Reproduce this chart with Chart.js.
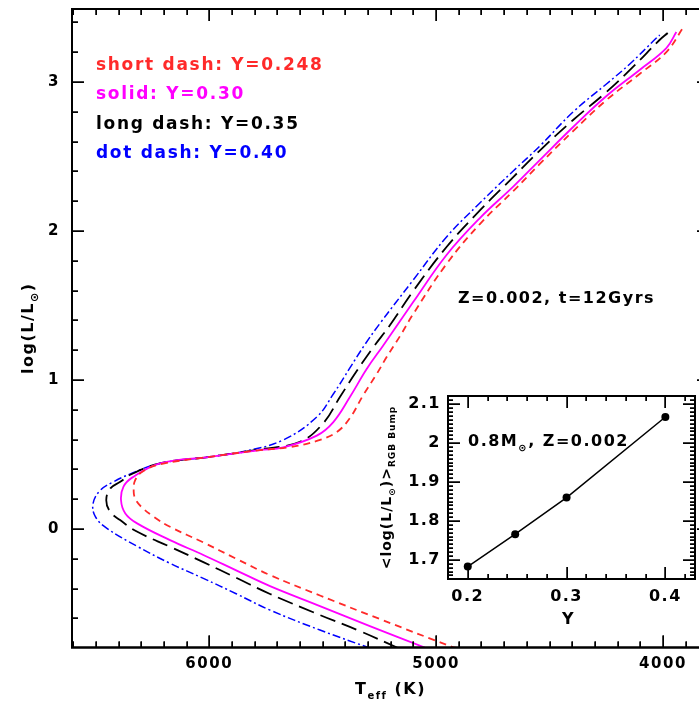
<!DOCTYPE html>
<html>
<head>
<meta charset="utf-8">
<script src="https://cdn.jsdelivr.net/npm/chart.js@4.4.0/dist/chart.umd.min.js"></script>
<style>
html, body { margin: 0; padding: 0; background: #fff; }
#wrap { position: relative; width: 699px; height: 702px; overflow: hidden; }
#main, #mainTicks { position: absolute; left: 0; top: 0; }
#inset, #insetTicks { position: absolute; left: 370px; top: 380px; }
</style>
</head>
<body>
<div id="wrap">
  <canvas id="main" width="712" height="702"></canvas>
  <canvas id="inset" width="329" height="250"></canvas>
  <canvas id="mainTicks" width="712" height="702"></canvas>
  <canvas id="insetTicks" width="329" height="250"></canvas>
</div>
<script>
// Isochrones, Z=0.002, t=12 Gyr: Teff (K) and log(L/Lsun), from the main sequence up the RGB
const teff248 = [4905, 4930, 5248, 5512, 5732, 5879, 6026, 6173, 6245, 6300, 6325, 6333, 6326, 6290, 6216, 5996, 5776, 5644, 5526, 5438, 5380, 5321, 5262, 5218, 5159, 5101, 4954, 4807, 4660, 4543, 4396, 4249, 4103, 3985, 3912];
const logL248 = [-0.80, -0.79, -0.604, -0.446, -0.309, -0.201, -0.09, 0.015, 0.083, 0.15, 0.20, 0.25, 0.33, 0.39, 0.435, 0.485, 0.53, 0.550, 0.591, 0.651, 0.745, 0.899, 1.040, 1.154, 1.295, 1.443, 1.779, 2.047, 2.268, 2.450, 2.671, 2.879, 3.054, 3.201, 3.362];

const teff30 = [5050, 5292, 5512, 5732, 5879, 6026, 6173, 6318, 6370, 6389, 6378, 6340, 6217, 5996, 5776, 5674, 5526, 5453, 5380, 5306, 5233, 5101, 4954, 4807, 4660, 4543, 4396, 4249, 4103, 3985, 3941];
const logL30 = [-0.795, -0.651, -0.517, -0.383, -0.279, -0.174, -0.074, 0.038, 0.105, 0.195, 0.284, 0.345, 0.441, 0.485, 0.53, 0.548, 0.627, 0.718, 0.886, 1.074, 1.232, 1.523, 1.839, 2.087, 2.298, 2.476, 2.698, 2.906, 3.081, 3.228, 3.336];

const teff35 = [5165, 5336, 5512, 5732, 5879, 6026, 6173, 6319, 6393, 6437, 6454, 6436, 6392, 6348, 6217, 5996, 5776, 5600, 5497, 5424, 5350, 5278, 5203, 5101, 4954, 4807, 4660, 4543, 4396, 4249, 4132, 4015, 3979];
const logL35 = [-0.80, -0.685, -0.577, -0.436, -0.329, -0.222, -0.119, -0.017, 0.060, 0.116, 0.195, 0.273, 0.317, 0.364, 0.441, 0.485, 0.535, 0.586, 0.711, 0.886, 1.060, 1.218, 1.369, 1.597, 1.893, 2.138, 2.362, 2.540, 2.745, 2.933, 3.101, 3.282, 3.329];

const teff40 = [5290, 5512, 5732, 5879, 6026, 6173, 6319, 6451, 6502, 6512, 6480, 6422, 6348, 6217, 5996, 5850, 5675, 5526, 5453, 5380, 5314, 5248, 5101, 4954, 4807, 4660, 4543, 4396, 4249, 4146, 4029, 4014];
const logL40 = [-0.80, -0.678, -0.544, -0.436, -0.331, -0.23, -0.115, 0.005, 0.083, 0.172, 0.26, 0.317, 0.370, 0.441, 0.485, 0.52, 0.597, 0.752, 0.906, 1.081, 1.238, 1.379, 1.671, 1.960, 2.188, 2.403, 2.570, 2.799, 2.987, 3.121, 3.295, 3.315];

const seriesLabels = ['short dash: Y=0.248', 'solid: Y=0.30', 'long dash: Y=0.35', 'dot dash: Y=0.40'];
const seriesColors = ['#ff2a2a', '#ff00ff', '#000000', '#0000ff'];

// inset: mean RGB bump luminosity vs helium abundance
const insetHelium = [0.2, 0.248, 0.3, 0.4];
const insetBump = [1.683, 1.766, 1.86, 2.067];

const xTickValues = [4000, 5000, 6000];
const yTickValues = [0, 1, 2, 3];
const insetXTicks = [0.2, 0.3, 0.4];
const insetYTicks = [1.7, 1.8, 1.9, 2.0, 2.1];

// axis limits
const teffRange = [3797, 6605];
const logLRange = [-0.795, 3.49];
const heliumRange = [0.18, 0.43];
const bumpRange = [1.651, 2.121];

const SANS = 'DejaVu Sans';
const mainTickSpec = { xr: teffRange, yr: logLRange, xRev: true, xMinor: 100, xMajor: 1000, yMinor: 0.2, yMajor: 1, major: 12, minor: 6 };
const insetTickSpec = { xr: heliumRange, yr: bumpRange, xRev: false, xMinor: 0.02, xMajor: 0.1, yMinor: 0.01, yMajor: 0.1, major: 12, minor: 5 };

function toPoints(xs, ys) {
    return xs.map((x, i) => ({ x: x, y: ys[i] }));
}

// text with subscripts: parts = [[text, isSub], ...]
function drawRich(ctx, parts, x, y, size, subSize, align) {
    const widths = parts.map(p => {
        ctx.font = 'bold ' + (p[1] ? subSize : size) + 'px ' + SANS;
        return ctx.measureText(p[0]).width;
    });
    const total = widths.reduce((a, b) => a + b, 0);
    let cx = align === 'center' ? x - total / 2 : x;
    ctx.textAlign = 'left';
    ctx.textBaseline = 'alphabetic';
    parts.forEach((p, i) => {
        ctx.font = 'bold ' + (p[1] ? subSize : size) + 'px ' + SANS;
        ctx.fillText(p[0], cx, y + (p[1] ? size * 0.3 : 0));
        cx += widths[i];
    });
}

function stepValues(range, step) {
    const out = [];
    const n0 = Math.ceil(range[0] / step - 1e-9), n1 = Math.floor(range[1] / step + 1e-9);
    for (let i = n0; i <= n1; i++) out.push(i * step);
    return out;
}

function isMajor(v, major) {
    return Math.abs(v / major - Math.round(v / major)) < 1e-6;
}

// pixel from the chart scale, falling back to the chart area if the scale gives nothing usable
function xPix(chart, t, v) {
    const p = chart.scales.x ? chart.scales.x.getPixelForValue(v) : NaN;
    if (isFinite(p)) return p;
    const a = chart.chartArea, f = (v - t.xr[0]) / (t.xr[1] - t.xr[0]);
    return t.xRev ? a.right - f * (a.right - a.left) : a.left + f * (a.right - a.left);
}
function yPix(chart, t, v) {
    const p = chart.scales.y ? chart.scales.y.getPixelForValue(v) : NaN;
    if (isFinite(p)) return p;
    const a = chart.chartArea, f = (v - t.yr[0]) / (t.yr[1] - t.yr[0]);
    return a.bottom - f * (a.bottom - a.top);
}

// inward ticks on all four sides plus the frame
function drawFrame(chart, ctx, t) {
    const a = chart.chartArea;
    ctx.save();
    ctx.setLineDash([]);
    ctx.globalAlpha = 1;
    ctx.globalCompositeOperation = 'source-over';
    ctx.strokeStyle = '#000';
    ctx.lineWidth = 1.5;
    ctx.beginPath();
    stepValues(t.xr, t.xMinor).forEach(v => {
        const len = isMajor(v, t.xMajor) ? t.major : t.minor;
        const px = Math.round(xPix(chart, t, v)) + 0.25;
        ctx.moveTo(px, a.bottom); ctx.lineTo(px, a.bottom - len);
        ctx.moveTo(px, a.top); ctx.lineTo(px, a.top + len);
    });
    stepValues(t.yr, t.yMinor).forEach(v => {
        const len = isMajor(v, t.yMajor) ? t.major : t.minor;
        const py = Math.round(yPix(chart, t, v)) + 0.25;
        ctx.moveTo(a.left, py); ctx.lineTo(a.left + len, py);
        ctx.moveTo(a.right, py); ctx.lineTo(a.right - len, py);
    });
    ctx.stroke();
    ctx.lineWidth = 2;
    ctx.strokeRect(a.left, a.top, a.right - a.left, a.bottom - a.top);
    ctx.restore();
}

const spacingPlugin = {
    id: 'spacing',
    beforeDraw(chart) { chart.ctx.letterSpacing = '1.5px'; }
};

const mainText = {
    id: 'mainText',
    afterDraw(chart) {
        drawFrame(chart, chart.ctx, mainTickSpec);
        const ctx = chart.ctx, a = chart.chartArea;
        ctx.save();
        // legend text
        ctx.letterSpacing = '1.7px';
        const rows = [70, 99, 129, 158];
        seriesLabels.forEach((s, i) => {
            ctx.fillStyle = seriesColors[i];
            drawRich(ctx, [[s, false]], 96, rows[i], 17, 11, 'left');
        });
        ctx.fillStyle = '#000';
        ctx.letterSpacing = '1.5px';
        drawRich(ctx, [['Z=0.002, t=12Gyrs', false]], 458, 303, 16, 10, 'left');
        // axis titles
        drawRich(ctx, [['T', false], ['eff', true], [' (K)', false]], (a.left + a.right) / 2, 694, 16, 10, 'center');
        ctx.translate(33, (a.top + a.bottom) / 2);
        ctx.rotate(-Math.PI / 2);
        drawRich(ctx, [['log(L/L', false], ['\u2299', true], [')', false]], 0, 0, 16, 11, 'center');
        ctx.restore();
    }
};

const insetText = {
    id: 'insetText',
    afterDraw(chart) {
        drawFrame(chart, chart.ctx, insetTickSpec);
        const ctx = chart.ctx, a = chart.chartArea;
        ctx.save();
        ctx.fillStyle = '#000';
        ctx.letterSpacing = '1.5px';
        drawRich(ctx, [['0.8M', false], ['\u2299', true], [', Z=0.002', false]], a.left + 20, 66, 16, 10, 'left');
        drawRich(ctx, [['Y', false]], (a.left + a.right) / 2 - 3, 244, 16, 10, 'center');
        ctx.letterSpacing = '1px';
        ctx.translate(21, (a.top + a.bottom) / 2);
        ctx.rotate(-Math.PI / 2);
        drawRich(ctx, [['<log(L/L', false], ['\u2299', true], [')>', false], ['RGB Bump', true]], 0, 0, 14, 9, 'center');
        ctx.restore();
    }
};

const tickFont = { family: SANS, size: 15, weight: 'bold' };

const datasets = [
    { data: toPoints(teff248, logL248), borderColor: seriesColors[0], borderWidth: 1.8, borderDash: [7, 5] },
    { data: toPoints(teff30, logL30), borderColor: seriesColors[1], borderWidth: 1.8, borderDash: [] },
    { data: toPoints(teff35, logL35), borderColor: seriesColors[2], borderWidth: 1.8, borderDash: [16, 7] },
    { data: toPoints(teff40, logL40), borderColor: seriesColors[3], borderWidth: 1.5, borderDash: [8, 3, 2, 3] }
].map(d => Object.assign(d, { showLine: true, pointRadius: 0, fill: false, tension: 0.4 }));

const mainChart = new Chart(document.getElementById('main'), {
    type: 'scatter',
    data: { datasets: datasets },
    options: {
        responsive: false,
        animation: false,
        layout: { padding: { top: 9, right: 3, left: 0, bottom: 0 } },
        plugins: { legend: { display: false }, tooltip: { enabled: false } },
        scales: {
            x: {
                type: 'linear', reverse: true, min: teffRange[0], max: teffRange[1],
                grid: { display: false, drawTicks: false }, border: { display: false },
                afterBuildTicks: s => { s.ticks = xTickValues.map(v => ({ value: v })); },
                afterFit: s => { s.height = 54.5; s.paddingLeft = 0; s.paddingRight = 0; },
                ticks: { font: tickFont, color: '#000', padding: 7.5, maxRotation: 0, callback: v => String(v) }
            },
            y: {
                type: 'linear', min: logLRange[0], max: logLRange[1],
                grid: { display: false, drawTicks: false }, border: { display: false },
                afterBuildTicks: s => { s.ticks = yTickValues.map(v => ({ value: v })); },
                afterFit: s => { s.width = 72; s.paddingTop = 0; s.paddingBottom = 0; },
                ticks: { font: tickFont, color: '#000', padding: 12, callback: v => String(v) }
            }
        }
    },
    plugins: [spacingPlugin, mainText]
});

const insetFont = { family: SANS, size: 16, weight: 'bold' };

const insetChart = new Chart(document.getElementById('inset'), {
    type: 'scatter',
    data: {
        datasets: [{
            data: toPoints(insetHelium, insetBump),
            showLine: true, borderColor: '#000', borderWidth: 1.5,
            pointRadius: 4, pointBackgroundColor: '#000', pointBorderWidth: 0, tension: 0
        }]
    },
    options: {
        responsive: false,
        animation: false,
        layout: { padding: { top: 16, right: 1, left: 0, bottom: 0 } },
        plugins: { legend: { display: false }, tooltip: { enabled: false } },
        scales: {
            x: {
                type: 'linear', min: heliumRange[0], max: heliumRange[1],
                grid: { display: false, drawTicks: false }, border: { display: false },
                afterBuildTicks: s => { s.ticks = insetXTicks.map(v => ({ value: v })); },
                afterFit: s => { s.height = 51; s.paddingLeft = 0; s.paddingRight = 0; },
                ticks: { font: insetFont, color: '#000', padding: 8, maxRotation: 0, callback: v => String(v) }
            },
            y: {
                type: 'linear', min: bumpRange[0], max: bumpRange[1],
                grid: { display: false, drawTicks: false }, border: { display: false },
                afterBuildTicks: s => { s.ticks = insetYTicks.map(v => ({ value: v })); },
                afterFit: s => { s.width = 78; s.paddingTop = 0; s.paddingBottom = 0; },
                ticks: { font: insetFont, color: '#000', padding: 7, callback: v => String(Math.round(v * 10) / 10) }
            }
        }
    },
    plugins: [spacingPlugin, insetText]
});

// the same frames and ticks again on overlay canvases
drawFrame(mainChart, document.getElementById('mainTicks').getContext('2d'), mainTickSpec);
drawFrame(insetChart, document.getElementById('insetTicks').getContext('2d'), insetTickSpec);
</script>
</body>
</html>
